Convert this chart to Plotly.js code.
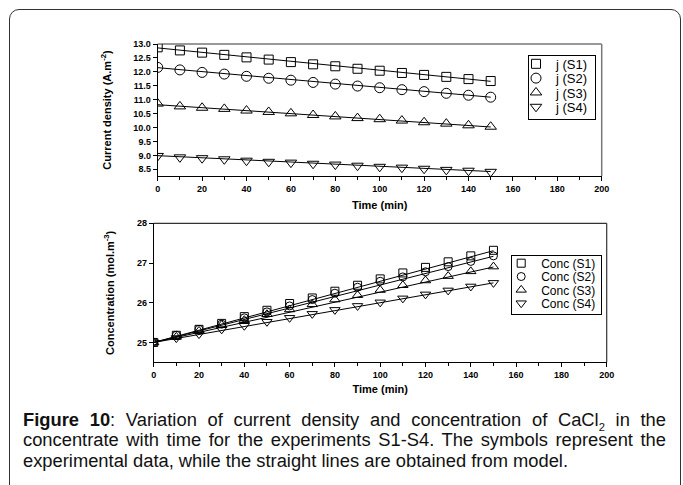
<!DOCTYPE html>
<html>
<head>
<meta charset="utf-8">
<script src="https://cdn.plot.ly/plotly-3.0.1.min.js"></script>
<style>
  html, body { margin:0; padding:0; background:#fff; }
  #wrap { position:relative; width:683px; height:485px; overflow:hidden; }
  #chart { position:absolute; left:0; top:0; width:683px; height:485px; }
  #frame { position:absolute; left:9px; top:9px; width:670px; height:500px; border:1px solid #333; border-radius:10px; pointer-events:none; }
  #caption { position:absolute; left:23px; top:410px; width:643px; font-family:"Liberation Sans",Arial,sans-serif; font-size:18px; line-height:20.3px; color:#111; }
  .cl { transform-origin:0 0; text-align:justify; height:20.3px; }
  .cl.j { text-align-last:justify; }
  .cl sub { font-size:11px; line-height:0; }
</style>
</head>
<body>
<div id="wrap">
  <div id="chart"></div>
  <div id="frame"></div>
  <div id="caption">
    <div class="cl j" id="cl1"><b>Figure 10</b>: Variation of current density and concentration of CaCl<sub>2</sub> in the</div>
    <div class="cl j" id="cl2">concentrate with time for the experiments S1-S4. The symbols represent the</div>
    <div class="cl" id="cl3">experimental data, while the straight lines are obtained from model.</div>
  </div>
</div>
<script>
// ---- data ----
const time = [0,10,20,30,40,50,60,70,80,90,100,110,120,130,140,150];

const jS1 = [12.88,12.77,12.69,12.61,12.52,12.44,12.35,12.27,12.20,12.11,12.04,11.96,11.89,11.82,11.74,11.67];
const jS2 = [12.16,12.07,11.98,11.92,11.84,11.77,11.70,11.62,11.56,11.49,11.43,11.36,11.29,11.23,11.16,11.09];
const jS3 = [10.86,10.76,10.71,10.67,10.61,10.56,10.51,10.45,10.40,10.34,10.30,10.25,10.19,10.14,10.08,10.03];
const jS4 = [8.98,8.93,8.90,8.86,8.81,8.77,8.74,8.70,8.67,8.63,8.59,8.56,8.52,8.48,8.45,8.41];

const cS1 = [25.00,25.18,25.33,25.48,25.65,25.81,25.98,26.12,26.29,26.44,26.60,26.75,26.89,27.03,27.18,27.32];
const cS2 = [25.00,25.18,25.33,25.46,25.62,25.77,25.92,26.08,26.24,26.39,26.54,26.65,26.78,26.91,27.04,27.18];
const cS3 = [25.00,25.14,25.29,25.44,25.56,25.71,25.83,25.96,26.08,26.19,26.32,26.44,26.56,26.67,26.79,26.91];
const cS4 = [25.00,25.11,25.21,25.33,25.42,25.52,25.62,25.72,25.82,25.92,26.01,26.11,26.21,26.31,26.41,26.50];

// model (straight lines), end points
const modelTime = [0,150];
const jModelS1 = [12.86,11.66];
const jModelS2 = [12.15,11.09];
const jModelS3 = [10.82,10.02];
const jModelS4 = [8.99,8.42];
const cModelS1 = [25.0,27.31];
const cModelS2 = [25.0,27.17];
const cModelS3 = [25.0,26.90];
const cModelS4 = [25.0,26.50];

const jNames = ['j (S1)','j (S2)','j (S3)','j (S4)'];
const cNames = ['Conc (S1)','Conc (S2)','Conc (S3)','Conc (S4)'];
const symbols = ['square-open','circle-open','triangle-up-open','triangle-down-open'];

// ---- caption fitting ----
(function(){
  const box = 643, line3Target = 545;
  const measure = el => { const s = document.createElement('span'); s.innerHTML = el.innerHTML; s.style.whiteSpace='nowrap'; s.style.font = getComputedStyle(el).font; document.body.appendChild(s); const w = s.getBoundingClientRect().width; s.remove(); return w; };
  const l1 = document.getElementById('cl1'), l2 = document.getElementById('cl2'), l3 = document.getElementById('cl3');
  const w1 = measure(l1), w2 = measure(l2), w3 = measure(l3);
  const s = Math.max(0.85, Math.min(1.05, line3Target / w3));
  [[l1,w1],[l2,w2],[l3,w3]].forEach(([el,w]) => {
    const si = Math.min(s, (box-2)/w);
    el.style.width = (box/si) + 'px';
    el.style.transform = 'scaleX(' + si + ')';
  });
})();

// ---- traces ----
const W = 683, H = 485;
const traces = [];
const jSeries = [jS1,jS2,jS3,jS4], jModels = [jModelS1,jModelS2,jModelS3,jModelS4];
const cSeries = [cS1,cS2,cS3,cS4], cModels = [cModelS1,cModelS2,cModelS3,cModelS4];
const topSizes = [9,10,10,10], botSizes = [8,8,9,9];

for (let i=0;i<4;i++){
  traces.push({x:modelTime, y:jModels[i], mode:'lines', line:{color:'#000', width:1}, showlegend:false, xaxis:'x', yaxis:'y', hoverinfo:'skip'});
}
for (let i=0;i<4;i++){
  traces.push({x:time, y:jSeries[i], mode:'markers', name:jNames[i], legend:'legend',
    marker:{symbol:symbols[i], color:'#000', size:topSizes[i], line:{width:1}}, xaxis:'x', yaxis:'y'});
}
for (let i=0;i<4;i++){
  traces.push({x:modelTime, y:cModels[i], mode:'lines', line:{color:'#000', width:1}, showlegend:false, xaxis:'x2', yaxis:'y2', hoverinfo:'skip'});
}
for (let i=0;i<4;i++){
  traces.push({x:time, y:cSeries[i], mode:'markers', name:cNames[i], legend:'legend2',
    marker:{symbol:symbols[i], color:'#000', size:botSizes[i], line:{width:1}}, xaxis:'x2', yaxis:'y2'});
}

const tickFont = {family:'Liberation Sans, Arial, sans-serif', size:9, color:'#000', weight:'bold'};
const titleFont = {family:'Liberation Sans, Arial, sans-serif', size:11, color:'#000', weight:'bold'};

function xax(domain, anchor, standoff){
  return {domain:domain, anchor:anchor, range:[0,200], dtick:20, tick0:0, ticks:'outside', ticklen:4, tickwidth:1, tickcolor:'#000',
    minor:{dtick:10, ticks:'outside', ticklen:3, tickcolor:'#000'},
    showline:true, linecolor:'#000', linewidth:1, showgrid:false, zeroline:false, tickfont:tickFont,
    title:{text:'Time (min)', font:titleFont, standoff:standoff}, fixedrange:true};
}

const layout = {
  width:W, height:H, margin:{l:0,r:0,t:0,b:0}, paper_bgcolor:'rgba(0,0,0,0)', plot_bgcolor:'rgba(0,0,0,0)',
  xaxis: xax([157.7/W, 601.7/W], 'y', 8),
  yaxis: {domain:[1-176/H, 1-44/H], anchor:'x', range:[8.26,13.0], tick0:8.5, dtick:0.5, tickformat:'.1f', ticks:'outside', ticklen:4, tickcolor:'#000',
    showline:true, linecolor:'#000', linewidth:1, showgrid:false, zeroline:false, tickfont:tickFont,
    title:{text:'Current density (A.m<sup>-2</sup>)', font:titleFont, standoff:19}},
  xaxis2: xax([153.7/W, 606.7/W], 'y2', 6),
  yaxis2: {domain:[1-362.3/H, 1-223.3/H], anchor:'x2', range:[24.5,28], dtick:1, ticks:'outside', ticklen:4, tickcolor:'#000',
    showline:true, linecolor:'#000', linewidth:1, showgrid:false, zeroline:false, tickfont:tickFont,
    title:{text:'Concentration (mol.m<sup>-3</sup>)', font:titleFont, standoff:20}},
  legend: {x:528/W, y:1-55/H, xanchor:'left', yanchor:'top', bgcolor:'#fff', bordercolor:'#000', borderwidth:1,
    font:{family:'Liberation Sans, Arial, sans-serif', size:13, color:'#000'}, tracegroupgap:0, itemwidth:30},
  legend2: {x:510.7/W, y:1-255/H, xanchor:'left', yanchor:'top', bgcolor:'#fff', bordercolor:'#000', borderwidth:1,
    font:{family:'Liberation Sans, Arial, sans-serif', size:12, color:'#000'}, tracegroupgap:0, itemwidth:30},
  shapes: [
    {type:'line', xref:'x domain', yref:'y domain', x0:0, x1:1, y0:1, y1:1, line:{color:'#777', width:1.5}, layer:'below'},
    {type:'line', xref:'x domain', yref:'y domain', x0:1, x1:1, y0:0, y1:1, line:{color:'#777', width:1.5}, layer:'below'},
    {type:'line', xref:'x2 domain', yref:'y2 domain', x0:0, x1:1, y0:1, y1:1, line:{color:'#333', width:1.2}, layer:'below'},
    {type:'line', xref:'x2 domain', yref:'y2 domain', x0:1, x1:1, y0:0, y1:1, line:{color:'#333', width:1.2}, layer:'below'}
  ],
  showlegend:true
};

// compact legend rows to match the reference box
function tightenLegend(gd, cls, opts){
  const g = gd.querySelector('g.' + cls);
  if (!g) return;
  const items = g.querySelectorAll('g.traces');
  items.forEach((it, i) => {
    it.setAttribute('transform', 'translate(' + opts.dx + ',' + (opts.first + i*opts.pitch) + ')');
  });
  const bg = g.querySelector('rect.bg');
  if (bg){ bg.setAttribute('width', opts.w); bg.setAttribute('height', opts.h); }
}

Plotly.newPlot('chart', traces, layout, {staticPlot:true, displayModeBar:false}).then(gd => {
  tightenLegend(gd, 'legend',  {dx:-12, first:8.8,  pitch:14.33, w:66.7, h:63.8});
  tightenLegend(gd, 'legend2', {dx:-9.5, first:8.2,  pitch:13.33, w:90.6, h:58.5});
});
</script>
</body>
</html>
